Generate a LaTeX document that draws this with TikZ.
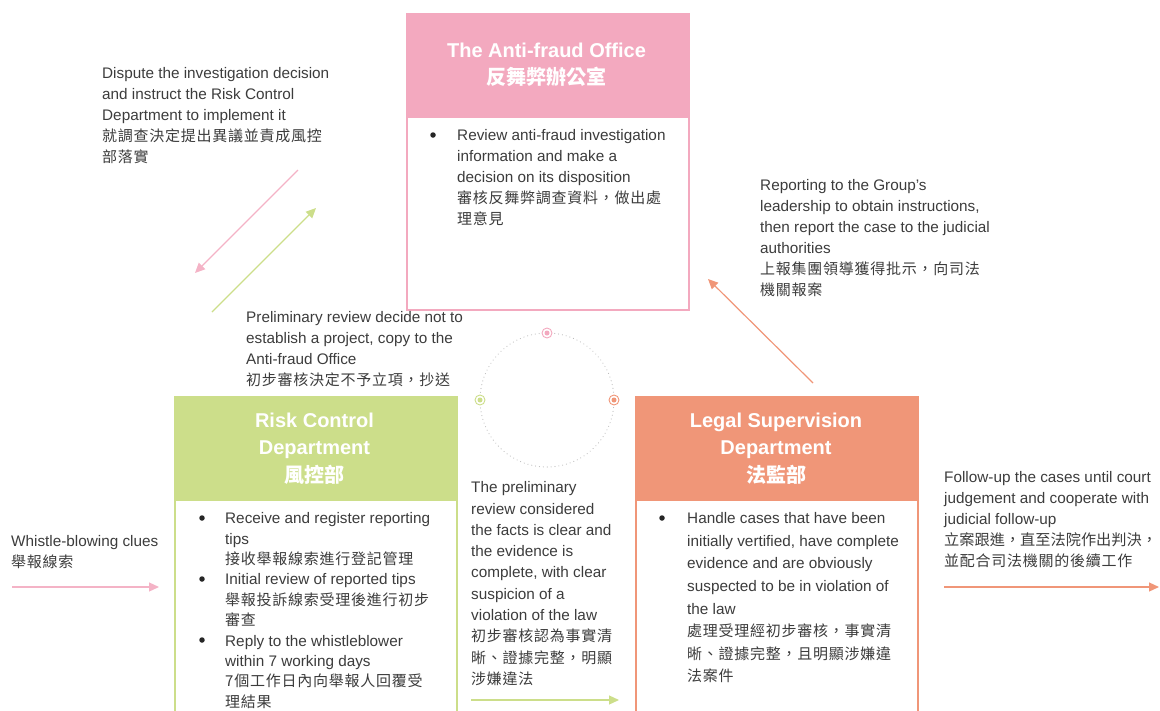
\documentclass[tikz,border=0pt]{standalone}
\usepackage{fontspec}
\setmainfont{Liberation Sans}
\newfontfamily\cjk[LetterSpace=5]{Noto Sans CJK TC}
\newfontfamily\cjkt{Noto Sans CJK TC}
\usetikzlibrary{arrows.meta}
\definecolor{pinkc}{HTML}{F3A9BF}
\definecolor{pinkarrow}{HTML}{F4B3C6}
\definecolor{greenc}{HTML}{CCDE8A}
\definecolor{orangec}{HTML}{F09678}
\definecolor{txt}{HTML}{3C3C3C}
\definecolor{dotgray}{HTML}{BDBDBD}
\newcommand{\zh}[1]{{\cjk\fontsize{15}{21}\selectfont #1}}
\newcommand{\zhn}[1]{{\cjkt\fontsize{15.2}{21}\selectfont #1}}
\newcommand{\zhb}[1]{{\cjkt\bfseries #1}}
\tikzset{
  x=1pt, y=-1pt,
  boxframe/.style={draw=#1, line width=2pt, fill=white, anchor=north west, inner sep=0pt},
  titletext/.style={text=white, align=center, inner sep=0pt, font=\bfseries\fontsize{20}{27.5}\selectfont},
  bodytext/.style={text=txt, align=left, inner sep=0pt, anchor=north west, font=\fontsize{15.3}{#1}\selectfont},
  bodytext/.default=21,
  bulletnode/.style={fill=black!85, circle, inner sep=0pt, minimum size=5.5pt},
  flow/.style={line width=1.2pt, draw=#1, -{Triangle[length=10pt,width=9pt,fill=#1]}},
  ring/.style={draw=#1, fill=white, line width=0.9pt, circle, minimum size=10pt, inner sep=0pt},
  core/.style={fill=#1, circle, minimum size=5pt, inner sep=0pt}
}
\begin{document}
\begin{tikzpicture}
\useasboundingbox (0,0) rectangle (1160,710);

% ---------- boxes ----------
\node[boxframe=pinkc, minimum width=282pt, minimum height=296pt] (afo) at (406,12.5) {};
\fill[pinkc] (afo.north west) rectangle ([yshift=-105pt]afo.north east);
\node[titletext] (afoT) at (546.5,65) {The Anti-fraud Office\\\zhb{反舞弊辦公室}};

\node[boxframe=greenc, minimum width=282pt, minimum height=330pt] (rcd) at (174,396) {};
\fill[greenc] (rcd.north west) rectangle ([yshift=-105pt]rcd.north east);
\node[titletext] (rcdT) at (314.5,448.5) {Risk Control\\Department\\\zhb{風控部}};

\node[boxframe=orangec, minimum width=282pt, minimum height=330pt] (lsd) at (635,396) {};
\fill[orangec] (lsd.north west) rectangle ([yshift=-105pt]lsd.north east);
\node[titletext] (lsdT) at (776,448.5) {Legal Supervision\\Department\\\zhb{法監部}};

% ---------- box bodies ----------
\node[bulletnode] (afoB1) at (433,135) {};
\node[bodytext] (afoBody) at (457,129.5) {Review anti-fraud investigation\\information and make a\\decision on its disposition\\\zh{審核反舞弊調查資料，做出處}\\\zh{理意見}};

\node[bulletnode] (rcdB1) at (202,518) {};
\node[bulletnode] (rcdB2) at (202,579) {};
\node[bulletnode] (rcdB3) at (202,640) {};
\node[bodytext=20.4] (rcdBody) at (225,512.5) {Receive and register reporting\\tips\\\zh{接收舉報線索進行登記管理}\\Initial review of reported tips\\\zh{舉報投訴線索受理後進行初步}\\\zh{審查}\\Reply to the whistleblower\\within 7 working days\\\zh{7個工作日內向舉報人回覆受}\\\zh{理結果}};

\node[bulletnode] (lsdB1) at (662,518) {};
\node[bodytext=22.6] (lsdBody) at (687,512.5) {Handle cases that have been\\initially vertified, have complete\\evidence and are obviously\\suspected to be in violation of\\the law\\\zh{處理受理經初步審核，事實清}\\\zh{晰、證據完整，且明顯涉嫌違}\\\zh{法案件}};

% ---------- side texts ----------
\node[bodytext] (dispute) at (102,67.5) {Dispute the investigation decision\\and instruct the Risk Control\\Department to implement it\\\zh{就調查決定提出異議並責成風控}\\\zh{部落實}};
\node[bodytext] (prelimNo) at (246,311.5) {Preliminary review decide not to\\establish a project, copy to the\\Anti-fraud Office\\\zh{初步審核決定不予立項，抄送}};
\node[bodytext] (report) at (760,179.5) {Reporting to the Group’s\\leadership to obtain instructions,\\then report the case to the judicial\\authorities\\\zh{上報集團領導獲得批示，向司法}\\\zh{機關報案}};
\node[bodytext] (whistle) at (11,535.5) {Whistle-blowing clues\\\zh{舉報線索}};
\node[bodytext=21.3] (prelimYes) at (471,481.5) {The preliminary\\review considered\\the facts is clear and\\the evidence is\\complete, with clear\\suspicion of a\\violation of the law\\\zh{初步審核認為事實清}\\\zh{晰、證據完整，明顯}\\\zh{涉嫌違法}};
\node[bodytext] (follow) at (944,471.5) {Follow-up the cases until court\\judgement and cooperate with\\judicial follow-up\\\zhn{立案跟進，直至法院作出判決，}\\\zh{並配合司法機關的後續工作}};

% ---------- dotted circle ----------
\coordinate (cc) at (547,400);
\draw[dotgray, line width=1.1pt, dash pattern=on 0.1pt off 3.8pt, line cap=round] (cc) circle[radius=67pt];
\node[ring=pinkc] (dotTop) at (547,333) {};
\node[core=pinkc] at (dotTop) {};
\node[ring=greenc] (dotLeft) at (480,400) {};
\node[core=greenc] at (dotLeft) {};
\node[ring=orangec] (dotRight) at (614,400) {};
\node[core=orangec] at (dotRight) {};

% ---------- arrows ----------
\coordinate (a1s) at (298,170); \coordinate (a1e) at (195,273);
\coordinate (a2s) at (212,312); \coordinate (a2e) at (316,208);
\coordinate (a3s) at (813,383); \coordinate (a3e) at (708,279);
\coordinate (a4s) at (12,587);  \coordinate (a4e) at (159,587);
\coordinate (a5s) at (471,700); \coordinate (a5e) at (619,700);
\coordinate (a6s) at (944,587); \coordinate (a6e) at (1159,587);
\draw[flow=pinkarrow] (a1s) -- (a1e);
\draw[flow=greenc] (a2s) -- (a2e);
\draw[flow=orangec] (a3s) -- (a3e);
\draw[flow=pinkarrow] (a4s) -- (a4e);
\draw[flow=greenc] (a5s) -- (a5e);
\draw[flow=orangec] (a6s) -- (a6e);
\end{tikzpicture}
\end{document}
